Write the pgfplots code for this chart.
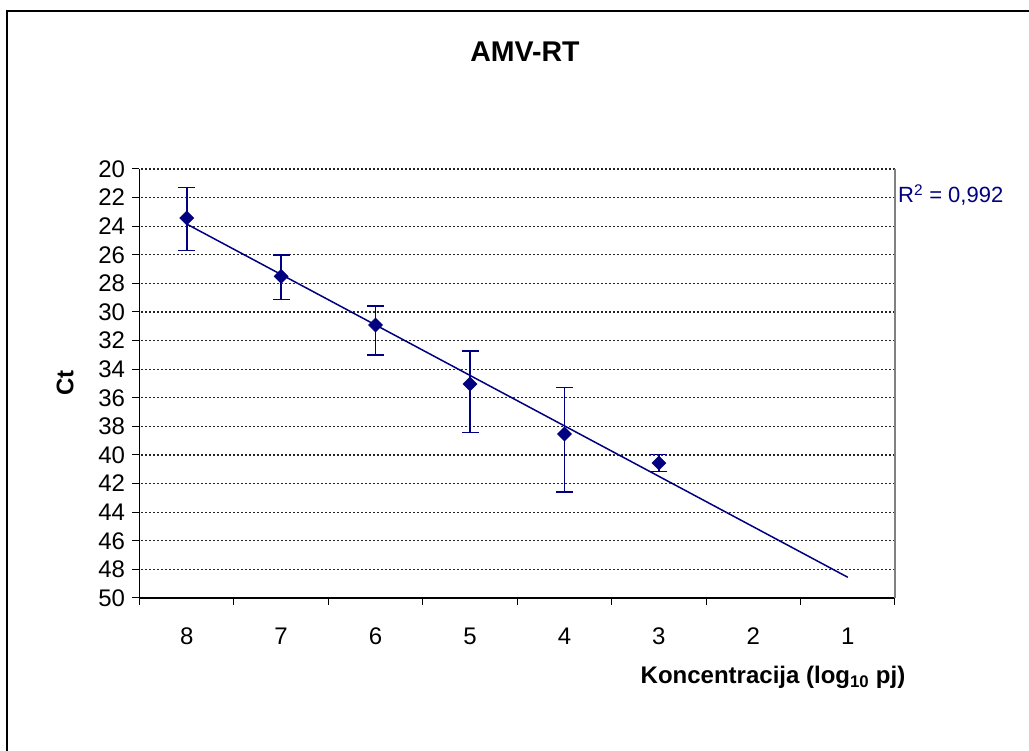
\documentclass[border=0pt]{standalone}
\usepackage{fontspec}
\setmainfont{Liberation Sans}
\usepackage{pgfplots}
\pgfplotsset{compat=1.18}
\definecolor{navy}{RGB}{0,0,128}

\begin{document}
\begin{tikzpicture}
\useasboundingbox (0,0) rectangle (1029pt,751pt);
% outer chart frame (top and left edges are visible)
\draw[black, line width=2pt] (7pt,0pt) -- (7pt,740pt) -- (1029pt,740pt);

\begin{axis}[
    at={(139.5pt,153pt)}, anchor=south west,
    scale only axis,
    width=755.5pt, height=429pt,
    x dir=reverse, y dir=reverse,
    xmin=0.5, xmax=8.5,
    ymin=20, ymax=50,
    xtick={1,...,8},
    ytick={20,22,...,50},
    x tick style={draw=none},
    extra x ticks={0.5,1.5,...,8.5},
    extra x tick labels={},
    extra x tick style={x tick style={draw=black, line width=1pt}},
    y tick style={black, line width=1pt},
    tick align=outside,
    major tick length=7pt,
    xtick pos=left, ytick pos=left,
    axis line style={draw=none},
    ymajorgrids,
    major grid style={black!85, dash pattern=on 2pt off 2pt, line width=1.1pt},
    tick label style={font=\fontsize{24}{28}\selectfont},
    /pgf/number format/assume math mode=true,
    xticklabel style={yshift=-19pt},
    yticklabel style={xshift=-4pt},
    clip=false,
]
\addplot[navy, line width=1.5pt, no marks] coordinates {
    (8,23.85) (1,48.55)
};
\addplot[
    only marks,
    mark=square*,
    mark options={rotate=45, mark size=5pt, fill=navy, draw=navy},
    error bars/.cd,
        y dir=both, y explicit,
        error bar style={navy, line width=1.6pt},
        error mark options={rotate=90, navy, mark size=8.5pt, line width=1.6pt},
] coordinates {
    (8,23.43) += (0,2.27) -= (0,2.15)
    (7,27.51) += (0,1.62) -= (0,1.51)
    (6,30.91) += (0,2.09) -= (0,1.34)
    (5,35.03) += (0,3.40) -= (0,2.32)
    (4,38.53) += (0,4.07) -= (0,3.25)
    (3,40.56) += (0,0.60) -= (0,0.60)
};
\end{axis}
% plot area: left and bottom axis lines in black, right border in gray
\draw[black, line width=1.5pt] (139.5pt,751pt-169pt) -- (139.5pt,153pt) -- (895pt,153pt);
\draw[gray, line width=1.5pt] (895pt,153pt) -- (895pt,751pt-169pt);

\node[font=\bfseries\fontsize{28.5}{32}\selectfont] at (525pt,699pt) {AMV-RT};
\node[rotate=90, font=\bfseries\fontsize{24}{28}\selectfont] at (65pt,368pt) {Ct};
\node[anchor=base, font=\bfseries\fontsize{24}{28}\selectfont] at (773pt,67pt)
    {Koncentracija (log\textsubscript{10} pj)};
\node[anchor=base west, inner sep=0pt, text=navy, font=\fontsize{22}{26}\selectfont]
    at (898pt,548pt) {R\textsuperscript{2} = 0,992};
\end{tikzpicture}
\end{document}
